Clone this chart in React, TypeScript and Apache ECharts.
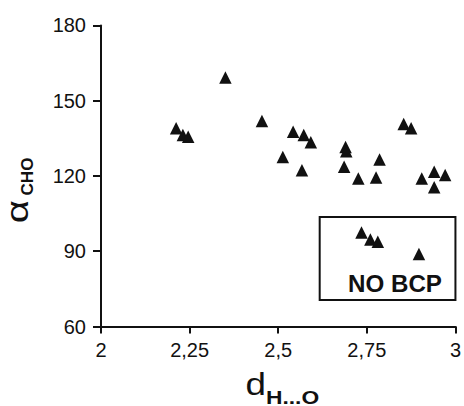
import React, { useEffect, useRef } from "react";
import * as echarts from "echarts";

// d(H...O) values, with BCP
const xBcp = [2.212, 2.231, 2.246, 2.351, 2.454, 2.513, 2.542, 2.567, 2.572, 2.592, 2.686, 2.69, 2.692, 2.726, 2.776, 2.786, 2.854, 2.875, 2.905, 2.94, 2.94, 2.971];
// alpha(CHO) values, with BCP
const yBcp = [139, 136.3, 135.6, 159.2, 141.9, 127.6, 137.6, 122.3, 136.3, 133.4, 123.7, 131.5, 129.8, 119, 119.4, 126.6, 140.7, 139, 119, 121.7, 115.5, 120.4];
// points without bond critical point
const xNoBcp = [2.735, 2.76, 2.781, 2.897];
const yNoBcp = [97.5, 94.7, 93.8, 88.9];
// annotation box (data coordinates)
const boxX = [2.617, 3];
const boxY = [103.6, 70.6];
const boxLabel = "NO BCP";

const xTicks = { min: 2, max: 3, interval: 0.25 };
const yTicks = { min: 60, max: 180, interval: 30 };

const FONT = "'Liberation Sans', Arial, Helvetica, sans-serif";
const INK = "#111111";

export default function App() {
  const ref = useRef<HTMLDivElement>(null);
  useEffect(() => {
    if (!ref.current) return;
    const chart = echarts.init(ref.current, null, { renderer: "svg" });
    const bcp = xBcp.map((x, i) => [x, yBcp[i]]);
    const noBcp = xNoBcp.map((x, i) => [x, yNoBcp[i]]);
    chart.setOption({
      animation: false,
      backgroundColor: "#ffffff",
      grid: { left: 101, right: 8, top: 25.4, bottom: 79.5 },
      xAxis: {
        type: "value",
        min: xTicks.min,
        max: xTicks.max,
        interval: xTicks.interval,
        splitLine: { show: false },
        axisLine: { show: true, onZero: false, lineStyle: { color: INK, width: 2 } },
        axisTick: { show: true, inside: false, length: 7, lineStyle: { color: INK, width: 2 } },
        axisLabel: {
          margin: 13,
          fontFamily: FONT,
          fontSize: 20,
          color: INK,
          formatter: (v: number) => String(v).replace(".", ","),
        },
      },
      yAxis: {
        type: "value",
        min: yTicks.min,
        max: yTicks.max,
        interval: yTicks.interval,
        splitLine: { show: false },
        axisLine: { show: true, onZero: false, lineStyle: { color: INK, width: 2 } },
        axisTick: { show: true, inside: false, length: 8, lineStyle: { color: INK, width: 2 } },
        axisLabel: { margin: 15, fontFamily: FONT, fontSize: 20, color: INK, padding: [0, 0, 3, 0] },
      },
      series: [
        {
          type: "scatter",
          data: bcp,
          symbol: "triangle",
          symbolSize: 12.5,
          itemStyle: { color: INK, opacity: 1 },
        },
        {
          type: "scatter",
          data: noBcp,
          symbol: "triangle",
          symbolSize: 12.5,
          itemStyle: { color: INK, opacity: 1 },
          markArea: {
            silent: true,
            itemStyle: { color: "rgba(0,0,0,0)", borderColor: INK, borderWidth: 2, opacity: 1 },
            data: [[{ xAxis: boxX[0], yAxis: boxY[0] }, { xAxis: boxX[1], yAxis: boxY[1] }]],
          },
        },
      ],
      graphic: [
        {
          type: "text",
          x: 395,
          y: 283.7,
          scaleX: 1.05,
          style: { text: boxLabel, fontFamily: FONT, fontWeight: "bold", fontSize: 23, fill: INK, align: "center", verticalAlign: "middle" },
        },
        {
          type: "text",
          x: 245.5,
          y: 384,
          scaleX: 1.15,
          style: { text: "d", fontFamily: FONT, fontSize: 32, fill: INK, align: "left", verticalAlign: "middle" },
        },
        {
          type: "text",
          x: 266,
          y: 397,
          scaleX: 1.2,
          style: { text: "H...O", fontFamily: FONT, fontWeight: "bold", fontSize: 19, fill: INK, align: "left", verticalAlign: "middle" },
        },
        {
          type: "text",
          x: 17.6,
          y: 211.5,
          rotation: Math.PI / 2,
          scaleX: 1.3,
          style: { text: "α", fontFamily: FONT, fontSize: 31, fill: INK, align: "center", verticalAlign: "middle" },
        },
        {
          type: "text",
          x: 27.8,
          y: 176.5,
          rotation: Math.PI / 2,
          scaleX: 1.04,
          style: { text: "CHO", fontFamily: FONT, fontWeight: "bold", fontSize: 16.5, fill: INK, align: "center", verticalAlign: "middle" },
        },
      ],
    });
    return () => chart.dispose();
  }, []);
  return <div ref={ref} style={{ position: "absolute", left: 0, top: 0, width: 464, height: 406 }} />;
}
